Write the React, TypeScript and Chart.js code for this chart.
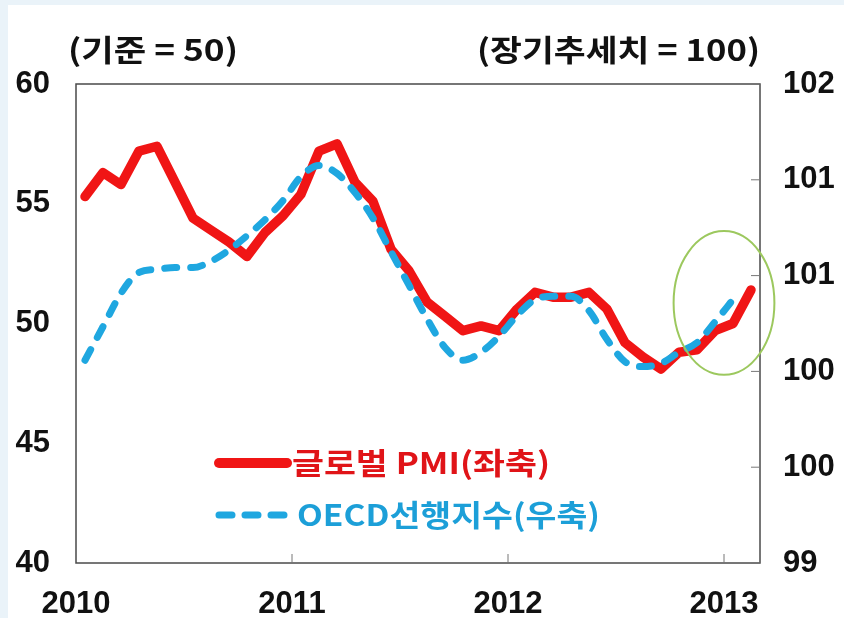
import React, { useEffect, useRef } from "react";
import { Chart, registerables } from "chart.js";

Chart.register(...registerables);

// ---- data ----
const startYear = 2010;
const monthsShown = 38; // Jan 2010 .. Feb 2013 (axis span in months)
const yearTickMonths = [0, 12, 24, 36];
const leftTitle = "(기준 = 50)";
const rightTitle = "(장기추세치 = 100)";
const pmiLabel = "글로벌 PMI(좌축)";
const oecdLabel = "OECD선행지수(우축)";

// Global PMI (left axis), monthly from Jan 2010
const pmi = [
  55.3, 56.3, 55.8, 57.2, 57.4, 55.9, 54.4, 53.9, 53.4, 52.8, 53.8, 54.5,
  55.4, 57.2, 57.5, 55.9, 55.1, 53.1, 52.2, 50.9, 50.3, 49.7, 49.9, 49.7,
  50.6, 51.3, 51.1, 51.1, 51.3, 50.6, 49.2, 48.6, 48.1, 48.8, 48.9, 49.7,
  50.0, 51.4,
];
// OECD composite leading indicator (right axis), monthly from Jan 2010
const oecd = [
  100.27, 100.48, 100.69, 100.82, 100.84, 100.85, 100.85, 100.89, 100.96, 101.05, 101.15, 101.27,
  101.42, 101.49, 101.44, 101.32, 101.16, 100.95, 100.74, 100.53, 100.35, 100.27, 100.32, 100.42,
  100.55, 100.65, 100.67, 100.67, 100.58, 100.40, 100.26, 100.23, 100.25, 100.32, 100.38, 100.51,
  100.65,
];
const leftMin = 40;
const leftMax = 60;
const leftStep = 5;
const rightMin = 99;
const rightMax = 102;
const rightStep = 0.6;
// highlight ellipse (data units: months / left-axis units)
const highlight = { month: 36, value: 50.86, rxMonths: 2.8, ryValue: 3.0 };

const RED = "#f01515";
const BLUE = "#1fa7e0";
const GREEN = "#9cc85e";
const TICK_FONT = "'Liberation Sans Narrow', 'Liberation Sans', Arial, sans-serif";
const KR_FONT = "'Noto Sans CJK KR', 'Liberation Sans', sans-serif";

function fitText(ctx: CanvasRenderingContext2D, text: string, x: number, y: number, width: number, align: "left" | "right") {
  const w = ctx.measureText(text).width;
  const sx = width / w;
  ctx.save();
  ctx.translate(align === "left" ? x : x - width, y);
  ctx.scale(sx, 1);
  ctx.textAlign = "left";
  ctx.fillText(text, 0, 0);
  ctx.restore();
}

const decorPlugin = {
  id: "decor",
  afterDatasetsDraw(chart: any) {
    const { ctx, chartArea: a, scales } = chart;
    const x = scales.x;
    const yl = scales.yL;
    const yr = scales.yR;
    ctx.save();
    // frame
    ctx.strokeStyle = "#4a4a4a";
    ctx.lineWidth = 1.5;
    ctx.strokeRect(a.left, a.top, a.right - a.left, a.bottom - a.top);
    // inward ticks
    ctx.strokeStyle = "#777";
    ctx.lineWidth = 1;
    x.ticks.forEach((t: any) => {
      const px = x.getPixelForValue(t.value);
      if (px <= a.left + 1) return;
      ctx.beginPath();
      ctx.moveTo(px, a.bottom);
      ctx.lineTo(px, a.bottom - 9);
      ctx.stroke();
    });
    yr.ticks.forEach((t: any) => {
      const py = yr.getPixelForValue(t.value);
      ctx.beginPath();
      ctx.moveTo(a.right, py);
      ctx.lineTo(a.right - 9, py);
      ctx.stroke();
    });
    // highlight ellipse
    const cx = x.getPixelForValue(highlight.month);
    const cy = yl.getPixelForValue(highlight.value);
    const rx = Math.abs(x.getPixelForValue(highlight.month + highlight.rxMonths) - cx);
    const ry = Math.abs(yl.getPixelForValue(highlight.value + highlight.ryValue) - cy);
    ctx.strokeStyle = GREEN;
    ctx.lineWidth = 2;
    ctx.beginPath();
    ctx.ellipse(cx, cy, rx, ry, 0, 0, Math.PI * 2);
    ctx.stroke();

    // titles
    ctx.fillStyle = "#111";
    ctx.font = `bold 30px ${KR_FONT}`;
    ctx.textBaseline = "alphabetic";
    fitText(ctx, leftTitle, a.left - 8, a.top - 23, 170, "left");
    fitText(ctx, rightTitle, a.right, a.top - 23, 283, "right");

    // legend
    const ds = chart.data.datasets;
    const lx = a.left + 139;
    const ly1 = a.top + 379;
    const ly2 = a.top + 431;
    ctx.lineCap = "round";
    ctx.strokeStyle = ds[0].borderColor;
    ctx.lineWidth = 10;
    ctx.beginPath();
    ctx.moveTo(lx + 4, ly1);
    ctx.lineTo(lx + 72, ly1);
    ctx.stroke();
    ctx.strokeStyle = ds[1].borderColor;
    ctx.lineWidth = 7;
    ctx.setLineDash([13, 13]);
    ctx.beginPath();
    ctx.moveTo(lx + 4, ly2);
    ctx.lineTo(lx + 76, ly2);
    ctx.stroke();
    ctx.setLineDash([]);
    ctx.font = `bold 30px ${KR_FONT}`;
    ctx.textBaseline = "middle";
    ctx.fillStyle = "#e01418";
    fitText(ctx, ds[0].label, lx + 77, ly1, 258, "left");
    ctx.fillStyle = "#1c9fd8";
    fitText(ctx, ds[1].label, lx + 82, ly2, 303, "left");
    ctx.restore();
  },
};

export default function App() {
  const ref = useRef<HTMLCanvasElement | null>(null);
  useEffect(() => {
    document.body.style.margin = "0";
    const canvas = ref.current;
    if (!canvas) return;
    const tickFont = { family: TICK_FONT, size: 31, weight: "bold" };
    const chart = new Chart(canvas, {
      type: "line",
      data: {
        datasets: [
          {
            label: pmiLabel,
            data: pmi.map((v, i) => ({ x: i + 0.5, y: v })),
            yAxisID: "yL",
            borderColor: RED,
            borderWidth: 9.5,
            pointRadius: 0,
            tension: 0,
            borderJoinStyle: "round",
            borderCapStyle: "round",
            order: 1,
          },
          {
            label: oecdLabel,
            data: oecd.map((v, i) => ({ x: i + 0.5, y: v })),
            yAxisID: "yR",
            borderColor: BLUE,
            borderWidth: 7,
            borderDash: [12, 14],
            borderCapStyle: "round",
            pointRadius: 0,
            cubicInterpolationMode: "monotone",
            order: 0,
          },
        ],
      },
      options: {
        animation: false,
        responsive: true,
        maintainAspectRatio: false,
        layout: { padding: { top: 79, left: 0, right: 0, bottom: 0 } },
        plugins: { legend: { display: false }, tooltip: { enabled: false } },
        scales: {
          x: {
            type: "linear",
            min: 0,
            max: monthsShown,
            grid: { display: false, drawTicks: false },
            border: { display: false },
            ticks: {
              padding: 23,
              color: "#111",
              font: tickFont,
              autoSkip: false,
              callback: (v: any) => String(startYear + Math.round(Number(v) / 12)),
              maxRotation: 0,
            },
            afterBuildTicks: (s: any) => {
              s.ticks = yearTickMonths.map((m) => ({ value: m }));
            },
            afterFit: (s: any) => {
              s.height = 55;
            },
          },
          yL: {
            position: "left",
            min: leftMin,
            max: leftMax,
            grid: { display: false, drawTicks: false },
            border: { display: false },
            ticks: {
              stepSize: leftStep,
              padding: 26,
              color: "#111",
              font: tickFont,
            },
            afterFit: (s: any) => {
              s.width = 68;
            },
          },
          yR: {
            position: "right",
            min: rightMin,
            max: rightMax,
            grid: { display: false, drawTicks: false },
            border: { display: false },
            ticks: {
              stepSize: rightStep,
              padding: 23,
              color: "#111",
              font: tickFont,
              callback: (v: any) => String(Math.round(Number(v))),
            },
            afterFit: (s: any) => {
              s.width = 84;
            },
          },
        },
      } as any,
      plugins: [decorPlugin],
    });
    return () => chart.destroy();
  }, []);
  return (
    <div
      style={{
        width: 844,
        height: 618,
        background: "#eaf3f9",
        paddingLeft: 8,
        paddingTop: 5,
        boxSizing: "border-box",
      }}
    >
      <div style={{ position: "relative", width: 836, height: 613, background: "#fff" }}>
        <canvas ref={ref} />
      </div>
    </div>
  );
}
